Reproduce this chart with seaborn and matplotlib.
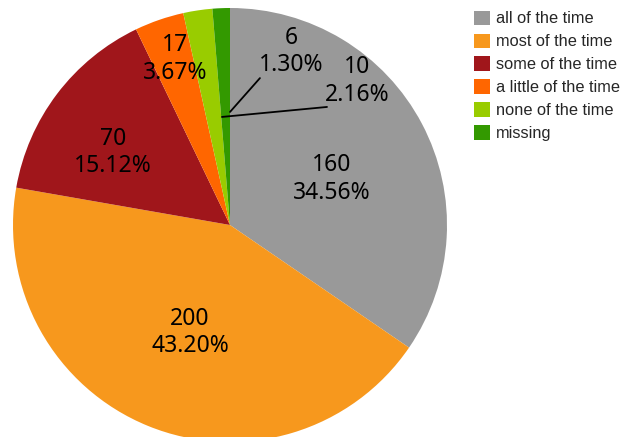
import numpy as np
import matplotlib
matplotlib.use("Agg")
import matplotlib.pyplot as plt
import seaborn as sns
from matplotlib.patches import Patch

categories = ["all of the time", "most of the time", "some of the time",
              "a little of the time", "none of the time", "missing"]
counts = [160, 200, 70, 17, 10, 6]
colors = ["#999999", "#F7981D", "#A0161B", "#FF6600", "#99CC00", "#339900"]

sns.set_theme(style="white")
palette = sns.color_palette(colors)
plt.rcParams['font.family'] = ['Liberation Sans', 'DejaVu Sans']

fig = plt.figure(figsize=(6.34, 4.37), dpi=100)
ax = fig.add_axes([13/634, -5/437, 434/634, 434/437])
wedges, _ = ax.pie(counts, colors=palette, startangle=90, counterclock=False,
                   radius=1.0, wedgeprops=dict(linewidth=0))
ax.set_xlim(-1, 1)
ax.set_ylim(-1, 1)
ax.set_aspect('equal')
ax.axis('off')

total = sum(counts)
# label placement (in units of pie radius)
label_pos = [(0.470, 0.212), (-0.184, -0.495), (-0.539, 0.334),
             (-0.253, 0.765), (0.585, 0.664), (0.281, 0.800)]
# leader lines for the two small slices: (point in slice, end near label)
leaders = {4: ((-0.037, 0.498), (0.447, 0.544)),
           5: ((0.0, 0.521), (0.138, 0.677))}

label_font = dict(family=['Noto Sans', 'DejaVu Sans'], fontsize=16.5, color='black',
                  ha='center', va='center', linespacing=1.2)
for i, w in enumerate(wedges):
    txt = f"{counts[i]}\n{counts[i] / total * 100:.2f}%"
    x, y = label_pos[i]
    ax.text(x, y, txt, **label_font)
    if i in leaders:
        p0, p1 = leaders[i]
        ax.plot([p0[0], p1[0]], [p0[1], p1[1]], color='black', lw=1.3)

handles = [Patch(facecolor=c, edgecolor='none') for c in palette]
fig.legend(handles, categories, loc='upper left', bbox_to_anchor=(467/634, 1 - 4/437),
           frameon=False, fontsize=11.8, handlelength=1.0, handleheight=0.96,
           handletextpad=0.35, labelspacing=0.44, borderaxespad=0)

fig.savefig("out.png", dpi=100)
